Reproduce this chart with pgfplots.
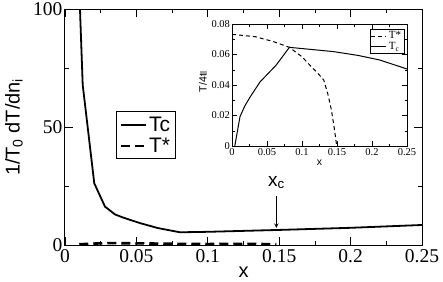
\documentclass[border=0pt]{standalone}
\usepackage{fontspec}
\setmainfont{Liberation Serif}
\setsansfont{Liberation Sans}
\newfontfamily\tickfont{Liberation Serif}
\usepackage{pgfplots}
\pgfplotsset{compat=1.18}
\begin{document}
\begin{tikzpicture}
\begin{axis}[
  name=main,
  at={(0pt,0pt)}, anchor=south west,
  scale only axis, width=357pt, height=235.5pt,
  xmin=0, xmax=0.25, ymin=0, ymax=100,
  xtick={0,0.05,0.1,0.15,0.2,0.25},
  xticklabels={\textrm{0},\textrm{0.05},\textrm{0.1},\textrm{0.15},\textrm{0.2},\textrm{0.25}},
  ytick={0,50,100},
  yticklabels={\textrm{0},\textrm{50},\textrm{100}},
  minor x tick num=1, minor y tick num=1,
  tick align=inside, tick pos=both,
  xticklabel pos=lower, yticklabel pos=left,
  major tick length=8pt, minor tick length=4pt,
  tick style={black, line width=0.8pt},
  axis line style={line width=1pt},
  tick label style={font=\tickfont\fontsize{19.5}{19.5}\selectfont},
  xticklabel style={yshift=-1pt},
  yticklabel style={xshift=1pt},
  xlabel={\sffamily x},
  ylabel={\sffamily 1/T\textsubscript{0} dT/dn\textsubscript{i}},
  label style={font=\sffamily\fontsize{20}{20}\selectfont},
  xlabel style={at={(axis description cs:0.5,-0.138)}, anchor=base, inner sep=0pt},
  ylabel style={at={(axis description cs:-0.143,0.5)}, anchor=center},
  legend style={at={(axis description cs:0.143,0.567)}, anchor=north west,
    font=\sffamily\fontsize{21}{23}\selectfont, draw=black, line width=1pt,
    inner xsep=3pt, inner ysep=3pt, row sep=1pt},
  legend cell align=left,
  legend image code/.code={\draw[#1] (0pt,0pt) -- (25pt,0pt);},
  clip=true,
]
\addplot[black, line width=1.8pt] coordinates {
 (0.0100,115) (0.0105,100) (0.0124,68) (0.0205,26.2) (0.028,16.3) (0.035,13.0)
 (0.04,11.8) (0.0525,9.3) (0.065,7.2) (0.0805,5.4) (0.1,5.6) (0.125,6.0)
 (0.15,6.4) (0.2,7.3) (0.25,8.5)};
\addlegendentry{Tc}
\addplot[black, line width=2.6pt, dash pattern=on 9pt off 5pt] coordinates {
 (0.01,0.3) (0.02,0.6) (0.03,0.8) (0.05,0.7) (0.08,0.5) (0.1,0.4) (0.13,0.5) (0.148,0.3)};
\addlegendentry{T*}
\draw[->, line width=0.9pt, >=stealth] (axis cs:0.148,21) -- (axis cs:0.148,7.3);
\node[font=\sffamily\fontsize{19}{19}\selectfont] at (axis cs:0.148,26.5) {x\textsubscript{c}};
\end{axis}
\begin{axis}[
  at={(167pt,99pt)}, anchor=south west,
  scale only axis, width=175pt, height=122pt,
  axis background/.style={fill=white},
  xmin=0, xmax=0.25, ymin=0, ymax=0.08,
  scaled x ticks=false, scaled y ticks=false,
  xtick={0,0.05,0.1,0.15,0.2,0.25},
  xticklabels={\textrm{0},\textrm{0.05},\textrm{0.1},\textrm{0.15},\textrm{0.2},\textrm{0.25}},
  ytick={0,0.02,0.04,0.06,0.08},
  yticklabels={\textrm{0},\textrm{0.02},\textrm{0.04},\textrm{0.06},\textrm{0.08}},
  minor x tick num=1, minor y tick num=1,
  tick align=inside, tick pos=both,
  xticklabel pos=lower, yticklabel pos=left,
  major tick length=5pt, minor tick length=2.5pt,
  tick style={black, line width=0.5pt},
  axis line style={line width=0.8pt},
  tick label style={font=\tickfont\fontsize{10.5}{10.5}\selectfont},
  xticklabel style={yshift=1pt},
  yticklabel style={xshift=1.5pt},
  xlabel={\sffamily x},
  ylabel={\sffamily T/4t\textcolor{black!35}{\rule[-0.5pt]{3.5pt}{7pt}}},
  label style={font=\sffamily\fontsize{10.5}{10.5}\selectfont},
  xlabel style={at={(axis description cs:0.5,-0.139)}, anchor=center},
  ylabel style={at={(axis description cs:-0.166,0.53)}, anchor=center},
  legend style={at={(axis description cs:0.985,0.96)}, anchor=north east,
    font=\tickfont\fontsize{11}{10}\selectfont, draw=black, line width=0.6pt,
    inner xsep=1pt, inner ysep=0.5pt, row sep=-2pt},
  legend cell align=left,
  legend image code/.code={\draw[#1] (0pt,0pt) -- (15pt,0pt);},
]
\addplot[black, line width=1pt, dash pattern=on 4pt off 3pt] coordinates {
 (0,0.0732) (0.033,0.0717) (0.059,0.0685) (0.082,0.0647) (0.1,0.0585) (0.111,0.0531)
 (0.122,0.048) (0.131,0.0433) (0.137,0.034) (0.142,0.0236) (0.146,0.012) (0.1496,0)};
\addlegendentry{T*}
\addplot[black, line width=1pt] coordinates {
 (0.004,0) (0.0114,0.0192) (0.018,0.026) (0.0257,0.032) (0.04,0.042) (0.063,0.053) (0.082,0.0647)
 (0.145,0.0619) (0.18,0.0594) (0.211,0.0564) (0.25,0.0505)};
\addlegendentry{T\textsubscript{c}}
\end{axis}
\pgfresetboundingbox
\path (-65pt,-36pt) rectangle (378pt,245pt);
\end{tikzpicture}
\end{document}
